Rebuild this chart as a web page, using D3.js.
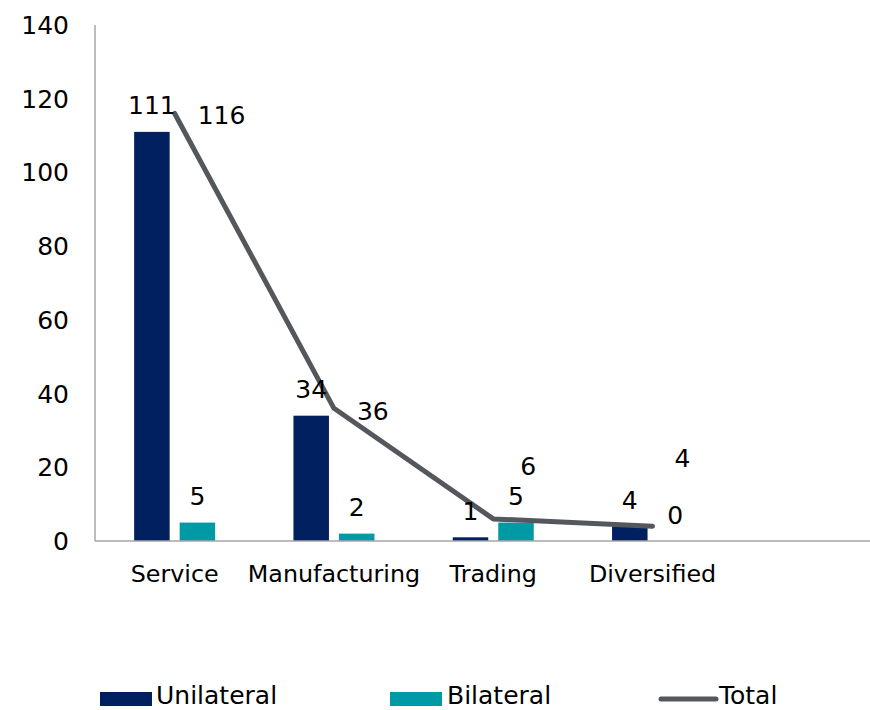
<!DOCTYPE html>
<html>
<head>
<meta charset="utf-8">
<script src="https://cdn.jsdelivr.net/npm/d3@7"></script>
<style>
  body { margin: 0; background: #fff; }
  svg { display: block; }
  text { font-family: "DejaVu Sans", Verdana, sans-serif; fill: #000; }
</style>
</head>
<body>
<div id="chart"></div>
<script>
var categories = ["Service", "Manufacturing", "Trading", "Diversified"];
var unilateral = [111, 34, 1, 4];
var bilateral = [5, 2, 5, 0];
var total = [116, 36, 6, 4];
var yTicks = [0, 20, 40, 60, 80, 100, 120, 140];

// total-label placement (dx, dy from the line point), as in the original
var totalLabelOffset = [[23, 11], [23, 12], [27, -44], [22, -59]];

var palette = {
  navy: "#002060",
  teal: "#009aa6",
  line: "#54585c",
  axis: "#a6a6a6"
};

var width = 870, height = 710;
var svg = d3.select("#chart").append("svg")
    .attr("width", width)
    .attr("height", height);

var x0 = 95, y0 = 541, yTop = 25;
var step = 159.3;

var x = d3.scaleBand()
    .domain(categories)
    .range([x0, x0 + step * categories.length])
    .paddingInner(0)
    .paddingOuter(0);

var y = d3.scaleLinear()
    .domain([0, 140])
    .range([y0, yTop]);

var barW = 35.5, gap = 10;
var side = (x.bandwidth() - 2 * barW - gap) / 2;

// y tick labels
svg.selectAll(".ytick")
  .data(yTicks)
  .enter().append("text")
    .attr("class", "ytick")
    .attr("x", 69)
    .attr("y", function(d) { return y(d); })
    .attr("dy", "0.36em")
    .attr("text-anchor", "end")
    .attr("font-size", "25px")
    .text(function(d) { return d; });

// bars
var bars = svg.append("g");
bars.selectAll(".uni")
  .data(unilateral)
  .enter().append("rect")
    .attr("x", function(d, i) { return x(categories[i]) + side; })
    .attr("y", function(d) { return y(d); })
    .attr("width", barW)
    .attr("height", function(d) { return y0 - y(d); })
    .attr("fill", palette.navy);

bars.selectAll(".bi")
  .data(bilateral)
  .enter().append("rect")
    .attr("x", function(d, i) { return x(categories[i]) + side + barW + gap; })
    .attr("y", function(d) { return y(d); })
    .attr("width", barW)
    .attr("height", function(d) { return y0 - y(d); })
    .attr("fill", palette.teal);

// axes lines
svg.append("line")
    .attr("x1", x0).attr("x2", x0)
    .attr("y1", yTop).attr("y2", y0)
    .attr("stroke", palette.axis).attr("stroke-width", 1.5);
svg.append("line")
    .attr("x1", x0).attr("x2", width)
    .attr("y1", y0).attr("y2", y0)
    .attr("stroke", palette.axis).attr("stroke-width", 1.5);

// category labels
svg.selectAll(".cat")
  .data(categories)
  .enter().append("text")
    .attr("x", function(d) { return x(d) + x.bandwidth() / 2; })
    .attr("y", 582)
    .attr("text-anchor", "middle")
    .attr("font-size", "23.8px")
    .text(function(d) { return d; });

// total line
var line = d3.line()
    .x(function(d, i) { return x(categories[i]) + x.bandwidth() / 2; })
    .y(function(d) { return y(d); });

svg.append("path")
    .datum(total)
    .attr("d", line)
    .attr("fill", "none")
    .attr("stroke", palette.line)
    .attr("stroke-width", 5)
    .attr("stroke-linejoin", "round")
    .attr("stroke-linecap", "round");

// data labels
svg.selectAll(".ulab")
  .data(unilateral)
  .enter().append("text")
    .attr("x", function(d, i) { return x(categories[i]) + side + barW / 2; })
    .attr("y", function(d) { return y(d) - 17.5; })
    .attr("text-anchor", "middle")
    .attr("font-size", "25px")
    .text(function(d) { return d; });

svg.selectAll(".blab")
  .data(bilateral)
  .enter().append("text")
    .attr("x", function(d, i) { return x(categories[i]) + side + barW * 1.5 + gap; })
    .attr("y", function(d) { return y(d) - 17.5; })
    .attr("text-anchor", "middle")
    .attr("font-size", "25px")
    .text(function(d) { return d; });

svg.selectAll(".tlab")
  .data(total)
  .enter().append("text")
    .attr("x", function(d, i) { return x(categories[i]) + x.bandwidth() / 2 + totalLabelOffset[i][0]; })
    .attr("y", function(d, i) { return y(d) + totalLabelOffset[i][1]; })
    .attr("text-anchor", "start")
    .attr("font-size", "25px")
    .text(function(d) { return d; });

// legend
var legend = svg.append("g");
var ly = 699;
legend.append("rect").attr("x", 100).attr("y", ly - 7).attr("width", 52).attr("height", 14).attr("fill", palette.navy);
legend.append("text").attr("x", 156).attr("y", ly + 5).attr("font-size", "25px").text("Unilateral");
legend.append("rect").attr("x", 390).attr("y", ly - 7).attr("width", 52).attr("height", 14).attr("fill", palette.teal);
legend.append("text").attr("x", 447).attr("y", ly + 5).attr("font-size", "25px").text("Bilateral");
legend.append("line").attr("x1", 661).attr("x2", 716).attr("y1", ly).attr("y2", ly)
    .attr("stroke", palette.line).attr("stroke-width", 5).attr("stroke-linecap", "round");
legend.append("text").attr("x", 719).attr("y", ly + 5).attr("font-size", "25px").text("Total");
</script>
</body>
</html>
